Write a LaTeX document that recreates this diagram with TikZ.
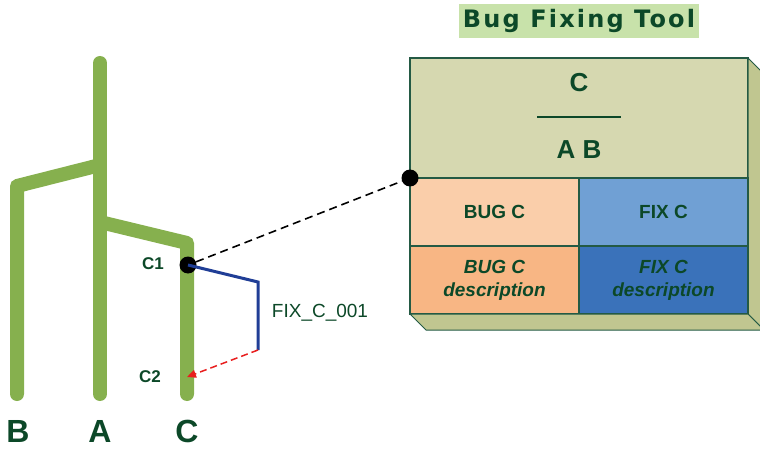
\documentclass[tikz,border=0pt]{standalone}
\usepackage{fontspec}
\setmainfont{Liberation Sans}
\newfontfamily\titlefont[LetterSpace=9]{DejaVu Sans}
\usetikzlibrary{positioning, calc, arrows.meta}
\definecolor{branchgreen}{RGB}{134,176,78}
\definecolor{darktext}{RGB}{12,72,40}
\definecolor{boxface}{RGB}{214,216,176}
\definecolor{boxside}{RGB}{192,198,144}
\definecolor{boxline}{RGB}{36,90,68}
\definecolor{buglight}{RGB}{250,206,170}
\definecolor{bugdark}{RGB}{248,182,132}
\definecolor{fixlight}{RGB}{112,160,212}
\definecolor{fixdark}{RGB}{58,114,186}
\definecolor{titlebg}{RGB}{200,226,170}
\definecolor{fixblue}{RGB}{32,62,150}
\definecolor{redo}{RGB}{232,30,30}
\tikzset{%
  branch/.style={line width=14pt, draw=branchgreen, line cap=round, line join=round},
  leaf/.style={text=darktext, font=\fontsize{32}{36}\selectfont\bfseries, inner sep=0pt},
  commit/.style={text=darktext, font=\fontsize{17}{20}\selectfont\bfseries, inner sep=0pt},
  dot/.style={circle, fill=black, minimum size=17pt, inner sep=0pt},
  link/.style={draw=black, line width=1.6pt, dash pattern=on 8pt off 5pt},
  fixpath/.style={draw=fixblue, line width=3pt},
  replay/.style={draw=redo, line width=1.5pt, dash pattern=on 7pt off 4pt, -{Triangle[length=9pt,width=8pt]}},
  titlebox/.style={
    fill=titlebg,
    minimum width=240pt,
    minimum height=34pt,
    inner sep=0pt,
    text=darktext,
    font=\titlefont\fontsize{24}{28}\selectfont\bfseries
  },
  headtext/.style={text=darktext, font=\fontsize{26}{30}\selectfont\bfseries, inner sep=0pt},
  face/.style={fill=boxside, draw=boxline, line width=1pt},
  cell/.style={
    draw=boxline,
    line width=1.2pt,
    minimum width=169pt,
    minimum height=68pt,
    inner sep=0pt,
    outer sep=0pt,
    align=center,
    text=darktext,
    font=\fontsize{19}{23}\selectfont\bfseries
  },
  desc/.style={font=\fontsize{19}{23}\selectfont\bfseries\itshape}
}

\begin{document}
\begin{tikzpicture}[x=1pt, y=-1pt]
  \useasboundingbox (0,0) rectangle (760,449);

  % version tree
  \coordinate (atop) at (100,63);
  \coordinate (abot) at (100,394);
  \coordinate (bjoin) at (100,165);
  \coordinate (bcorner) at (17,186);
  \coordinate (bbot) at (17,394);
  \coordinate (cjoin) at (100,222);
  \coordinate (ccorner) at (187,243);
  \coordinate (cbot) at (187,394);

  \draw[branch] (atop) -- (abot);
  \draw[branch] (bjoin) -- (bcorner) -- (bbot);
  \draw[branch] (cjoin) -- (ccorner) -- (cbot);

  \node[leaf] (lb) at (18,431) {B};
  \node[leaf] (la) at (100,431) {A};
  \node[leaf] (lc) at (187,431) {C};

  \node[commit] (lc1) at (153,264) {C1};
  \node[commit] (lc2) at (150,377) {C2};

  % fix on C
  \node[dot] (c1) at (188,265) {};
  \coordinate (c2) at (187,377);
  \coordinate (bend) at (258,282);
  \coordinate (fixend) at (258,350);
  \draw[fixpath] (c1.center) -- (bend) -- (fixend);
  \draw[replay] (fixend) -- (c2);
  \node[text=darktext, font=\fontsize{19}{23}\selectfont, inner sep=0pt] (fixname) at (320,313) {FIX\_C\_001};

  % tool box
  \node[titlebox] (title) at (579,21) {Bug Fixing Tool};

  \node[draw=boxline, line width=1.2pt, fill=boxface, minimum width=338pt, minimum height=120pt,
        inner sep=0pt, outer sep=0pt, anchor=north west] (head) at (410,58) {};
  \filldraw[face] (head.north east) -- ++(16,16) -- ++(0,256) -- ++(-16,-16) -- cycle;

  \node[cell, fill=buglight, anchor=north west] (bugc) at (head.south west) {BUG C};
  \node[cell, fill=fixlight, right=0pt of bugc] (fixc) {FIX C};
  \node[cell, fill=bugdark, below=0pt of bugc, desc] (bugd) {BUG C\\description};
  \node[cell, fill=fixdark, right=0pt of bugd, desc] (fixd) {FIX C\\description};
  \filldraw[face] (bugd.south west) -- ++(16,16) -- ($(fixd.south east)+(16,16)$) -- (fixd.south east) -- cycle;

  \node[headtext] (hc) at (579,83) {C};
  \node[headtext] (hab) at (579,150) {A B};
  \draw[darktext, line width=2.5pt] ($(head.north)+(-42,59)$) -- ($(head.north)+(42,59)$);

  \node[dot] (anchorpt) at (bugc.north west) {};
  \draw[link] (c1) -- (anchorpt);

\end{tikzpicture}
\end{document}
